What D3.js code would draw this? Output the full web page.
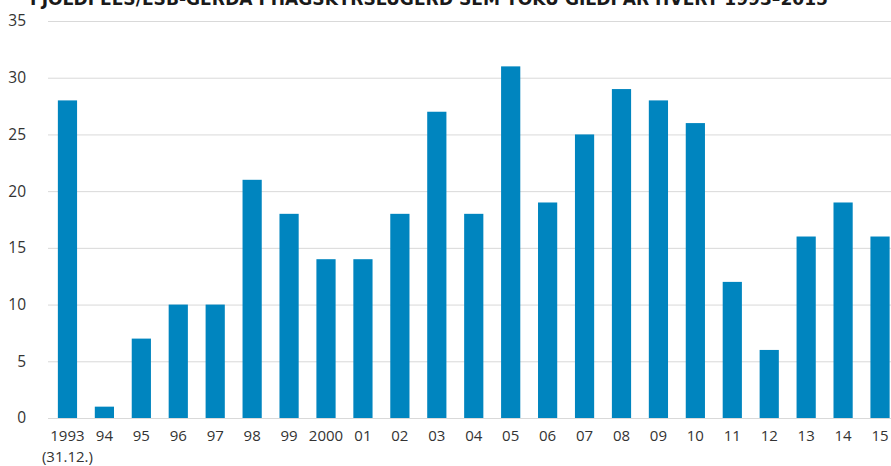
<!DOCTYPE html>
<html>
<head>
<meta charset="utf-8">
<script src="https://cdn.jsdelivr.net/npm/d3@7"></script>
<style>
  body { margin: 0; background: #fff; overflow: hidden; }
  text { font-family: "Open Sans", "Noto Sans", sans-serif; }
</style>
</head>
<body>
<script>
'use strict';

const years = ['1993', '94', '95', '96', '97', '98', '99', '2000', '01', '02', '03', '04',
  '05', '06', '07', '08', '09', '10', '11', '12', '13', '14', '15'];
const counts = [28, 1, 7, 10, 10, 21, 18, 14, 14, 18, 27, 18, 31, 19, 25, 29, 28, 26, 12, 6, 16, 19, 16];
const yTicks = [0, 5, 10, 15, 20, 25, 30, 35];
const title = 'FJÖLDI EES/ESB-GERÐA Í HAGSKÝRSLUGERÐ SEM TÓKU GILDI ÁR HVERT 1993–2015';

const width = 891, height = 466;
const svg = d3.select('body').append('svg')
  .attr('width', width)
  .attr('height', height);

const x = d3.scaleBand()
  .domain(years)
  .range([49, 898.5])
  .paddingInner(0.48)
  .paddingOuter(0.24);

const y = d3.scaleLinear()
  .domain([0, 35])
  .range([418, 21]);

// gridlines
svg.append('g')
  .selectAll('line')
  .data(yTicks)
  .enter()
  .append('line')
    .attr('x1', 48)
    .attr('x2', width)
    .attr('y1', d => y(d) + 0.5)
    .attr('y2', d => y(d) + 0.5)
    .attr('stroke', '#d9d9d9')
    .attr('stroke-width', 1);

// y labels
svg.append('g')
  .selectAll('text')
  .data(yTicks)
  .enter()
  .append('text')
    .attr('x', 26)
    .attr('y', d => y(d))
    .attr('dy', '0.35em')
    .attr('text-anchor', 'end')
    .style('font-size', '15.5px')
    .attr('fill', '#333')
    .text(d => d);

// bars
svg.append('g')
  .selectAll('rect')
  .data(counts)
  .enter()
  .append('rect')
    .attr('x', (d, i) => x(years[i]))
    .attr('y', d => y(d))
    .attr('width', x.bandwidth())
    .attr('height', d => y(0) - y(d))
    .attr('fill', '#0085bf');

// x labels
let xAxis = svg.append('g');
xAxis.selectAll('text')
  .data(years)
  .enter()
  .append('text')
    .attr('x', d => x(d) + x.bandwidth() / 2)
    .attr('y', 441)
    .attr('text-anchor', 'middle')
    .style('font-size', '15px')
    .attr('fill', '#333')
    .text(d => d);

xAxis.append('text')
  .attr('x', x('1993') + x.bandwidth() / 2)
  .attr('y', 462)
  .attr('text-anchor', 'middle')
  .style('font-size', '15px')
  .attr('fill', '#333')
  .text('(31.12.)');

// title, clipped at the top like the original
svg.append('text')
  .attr('x', 30)
  .attr('y', 5)
  .attr('textLength', 798)
  .attr('lengthAdjust', 'spacingAndGlyphs')
  .style('font-family', '"DejaVu Sans Condensed", "DejaVu Sans", sans-serif')
  .style('font-weight', 'bold')
  .style('font-size', '17px')
  .attr('fill', '#1a1a1a')
  .text(title);
</script>
</body>
</html>
